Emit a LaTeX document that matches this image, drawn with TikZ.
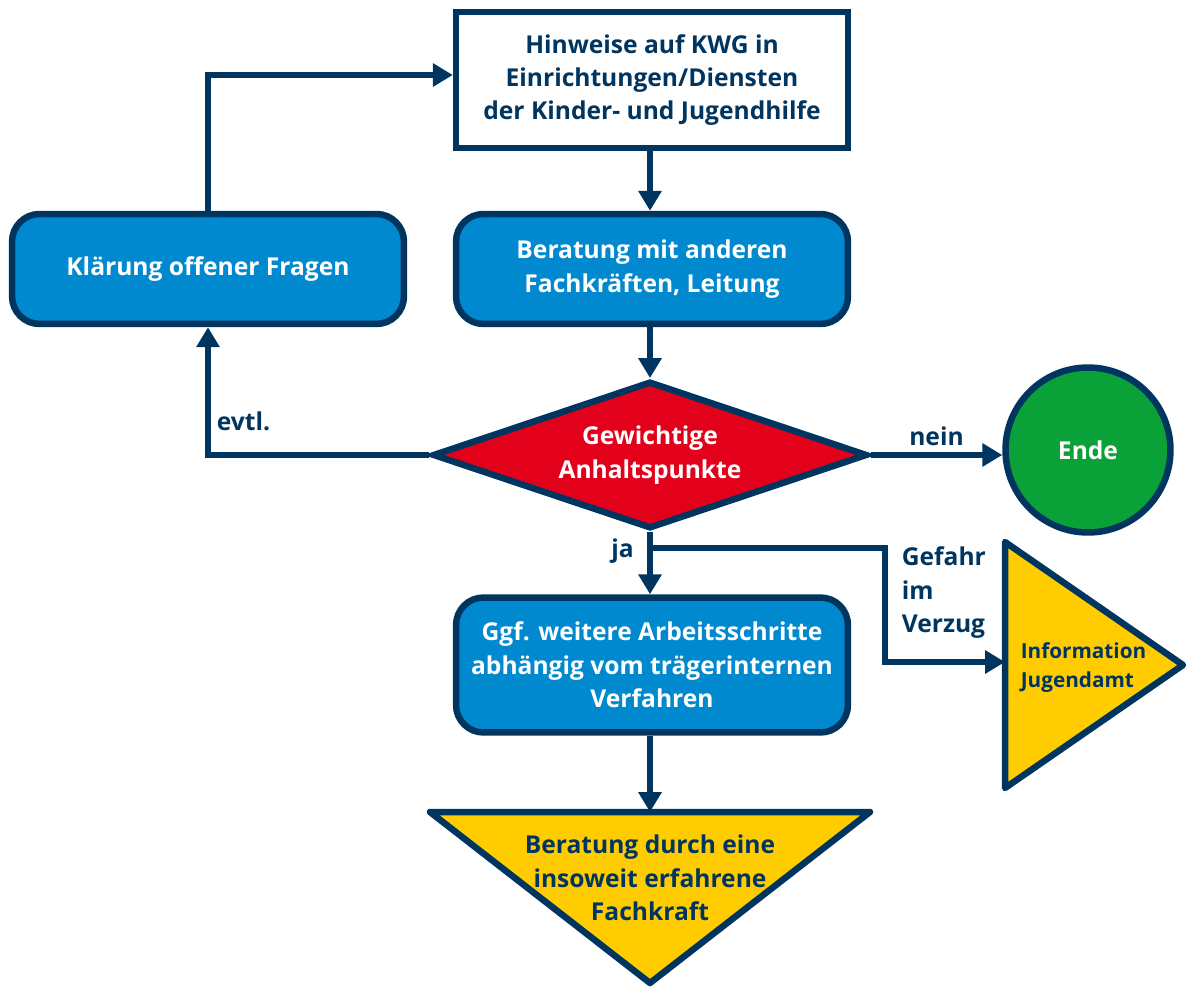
\documentclass[tikz,border=0pt]{standalone}
\usepackage{fontspec}
\setmainfont{Open Sans}
\usetikzlibrary{shapes.geometric,arrows.meta}
\definecolor{kwgdark}{RGB}{0,53,96}
\definecolor{kwgblue}{RGB}{0,137,207}
\definecolor{kwgred}{RGB}{226,0,26}
\definecolor{kwggreen}{RGB}{10,162,56}
\definecolor{kwgyellow}{RGB}{255,204,0}
\begin{document}
\begin{tikzpicture}[x=0.02cm, y=-0.02cm, line width=0.12cm,
  every node/.style={font=\bfseries\fontsize{14}{19}\selectfont, align=center},
  box/.style={draw=kwgdark, line width=0.13cm, minimum width=7.84cm, minimum height=2.2cm},
  stepbox/.style={box, fill=kwgblue, text=white, rounded corners=0.55cm},
  flow/.style={draw=kwgdark, -{Triangle[length=0.4cm, width=0.45cm]}},
  lbl/.style={text=kwgdark},
  tri/.style={draw=kwgdark, fill=kwgyellow, line width=0.13cm, line join=round}]
  \useasboundingbox (0,0) rectangle (1187,987);
  \node[box, fill=white, text=kwgdark, minimum height=2.72cm] (hinweise) at (652,80) {Hinweise auf KWG in\\Einrichtungen/Diensten\\der Kinder- und Jugendhilfe};
  \node[stepbox] (beratung) at (652,269) {Beratung mit anderen\\Fachkräften, Leitung};
  \node[stepbox] (klaerung) at (208,269) {Klärung offener Fragen};
  \node[diamond, draw=kwgdark, fill=kwgred, text=white, line width=0.13cm, aspect=2.93, inner sep=0pt, minimum width=8.7cm, minimum height=2.95cm] (anhalt) at (650,455) {Gewichtige\\Anhaltspunkte};
  \node[circle, draw=kwgdark, fill=kwggreen, text=white, line width=0.13cm, minimum size=3.3cm] (ende) at (1088,450) {Ende};
  \node[stepbox, minimum height=2.7cm] (schritte) at (652,665) {Ggf. weitere Arbeitsschritte\\abhängig vom trägerinternen\\Verfahren};
  \filldraw[tri] (430,812) -- (870,812) -- (650,983) -- cycle;
  \coordinate (fk-top) at (650,812);
  \node[lbl] (fachkraft) at (650,878) {Beratung durch eine\\insoweit erfahrene\\Fachkraft};
  \filldraw[tri] (1005,542) -- (1183,665) -- (1005,788) -- cycle;
  \coordinate (ja-left) at (1005,662);
  \node[lbl, align=left, anchor=west, font=\bfseries\fontsize{11.8}{16.5}\selectfont] (jugendamt) at (1012,668) {Information\\Jugendamt};
  \coordinate (gabel) at (650,548);
  \coordinate (knick) at (885,548);

  \draw[flow] (hinweise.south -| anhalt) -- (beratung.north -| anhalt);
  \draw[flow] (beratung.south -| anhalt) -- (anhalt.north);
  \draw[flow] (anhalt.west) -| (klaerung.south) node[lbl, pos=0.56, anchor=south west] {evtl.};
  \draw[flow] (klaerung.north) |- ([yshift=0.1cm]hinweise.west);
  \draw[flow] (anhalt.east) -- (anhalt.east -| ende.west) node[lbl, midway, above] {nein};
  \draw[flow] (anhalt.south) -- (schritte.north -| anhalt) node[lbl, pos=0.3, left, xshift=-0.15cm] {ja};
  \draw[flow] (gabel) -- (knick) |- (ja-left);
  \node[lbl, align=left, anchor=north west] (verzug) at (893,538) {Gefahr\\im\\Verzug};
  \draw[flow] (schritte.south -| anhalt) -- (fk-top);
\end{tikzpicture}
\end{document}
